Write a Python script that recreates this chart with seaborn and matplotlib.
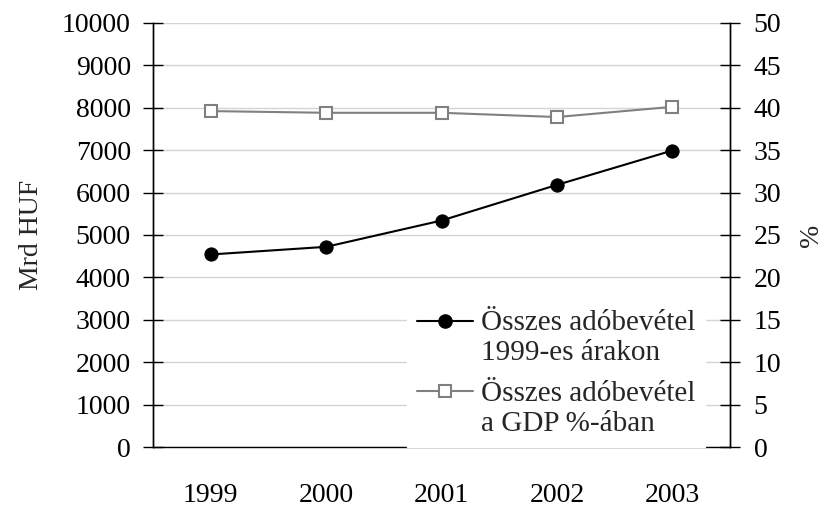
import matplotlib
matplotlib.use("Agg")
import matplotlib.pyplot as plt
from matplotlib.lines import Line2D
from matplotlib.legend_handler import HandlerLine2D
import seaborn as sns
import pandas as pd

years = ["1999", "2000", "2001", "2002", "2003"]
revenue_real = [4540, 4720, 5340, 6180, 6990]       # Mrd HUF, 1999 prices
revenue_gdp_pct = [39.6, 39.4, 39.4, 38.9, 40.1]    # % of GDP
label_real = "Összes adóbevétel\n1999-es árakon"
label_pct = "Összes adóbevétel\na GDP %-ában"

sns.set_theme(style="white")
plt.rcParams["font.family"] = ["Liberation Serif", "DejaVu Serif"]
plt.rcParams["font.size"] = 20

df = pd.DataFrame({"year": years, "real": revenue_real, "pct": revenue_gdp_pct})

fig = plt.figure(figsize=(8.23, 5.08), dpi=100)
ax = fig.add_axes([0.186, 0.120, 0.701, 0.835])
ax2 = ax.twinx()

sns.lineplot(data=df, x="year", y="real", ax=ax, color="black", lw=1.5,
             marker="o", markersize=9.5, markeredgecolor="black", zorder=5)
sns.lineplot(data=df, x="year", y="pct", ax=ax2, color="#808080", lw=1.5,
             marker="s", markersize=8.5, markerfacecolor="white",
             markeredgecolor="#808080", markeredgewidth=1.5, zorder=5)

ax.set_xlim(-0.5, 4.5)
ax.set_ylim(0, 10000)
ax2.set_ylim(0, 50)
ax.set_yticks(range(0, 10001, 1000))
ax2.set_yticks(range(0, 51, 5))
ax.yaxis.grid(True, color="#d4d4d4", lw=1)
ax.set_axisbelow(True)

ax.set_xticks(range(len(years)))
ax.set_xticklabels(years)
ax.set_xticks([i - 0.5 for i in range(len(years) + 1)], minor=True)
ax.tick_params(axis="x", which="major", length=0, pad=26, labelsize=20, colors="black")
ax.tick_params(axis="x", which="minor", direction="out", length=7, width=1, color="black")
ax.tick_params(axis="y", direction="inout", length=15, width=1, pad=8.5, labelsize=20, colors="black")
ax2.tick_params(axis="y", direction="inout", length=15, width=1, pad=9.5, labelsize=20, colors="black")

ax.set_xlabel("")
ax.set_ylabel("Mrd HUF", fontsize=20, labelpad=13)
ax2.set_ylabel("%", fontsize=20, labelpad=13)

for a in (ax, ax2):
    a.spines["top"].set_visible(False)
    for s in ("left", "right", "bottom"):
        a.spines[s].set_color("black")
        a.spines[s].set_linewidth(1)
ax2.spines["bottom"].set_visible(False)


class FirstLineHandler(HandlerLine2D):
    """Place the legend handle level with the first line of a two-line label."""
    def __init__(self, shift, **kw):
        super().__init__(**kw)
        self.shift = shift

    def create_artists(self, legend, orig_handle, xdescent, ydescent,
                       width, height, fontsize, trans):
        return super().create_artists(legend, orig_handle, xdescent,
                                      ydescent - 2 * self.shift, width, height,
                                      fontsize, trans)


h1 = Line2D([], [], color="black", lw=1.5, marker="o", markersize=9.5)
h2 = Line2D([], [], color="#808080", lw=1.5, marker="s", markersize=8.5,
            markerfacecolor="white", markeredgecolor="#808080", markeredgewidth=1.5)
shift = 12.6
leg = ax2.legend([h1, h2], [label_real, label_pct],
                 handler_map={h1: FirstLineHandler(shift), h2: FirstLineHandler(shift)},
                 loc="lower left", bbox_to_anchor=(0.44, 0.0), borderaxespad=0,
                 frameon=True, facecolor="white", edgecolor="white", framealpha=1,
                 fancybox=False, handlelength=1.9, handletextpad=0.28,
                 labelspacing=0.5, fontsize=21, borderpad=0.35)
leg.set_zorder(10)

fig.savefig("out.png", dpi=100)
